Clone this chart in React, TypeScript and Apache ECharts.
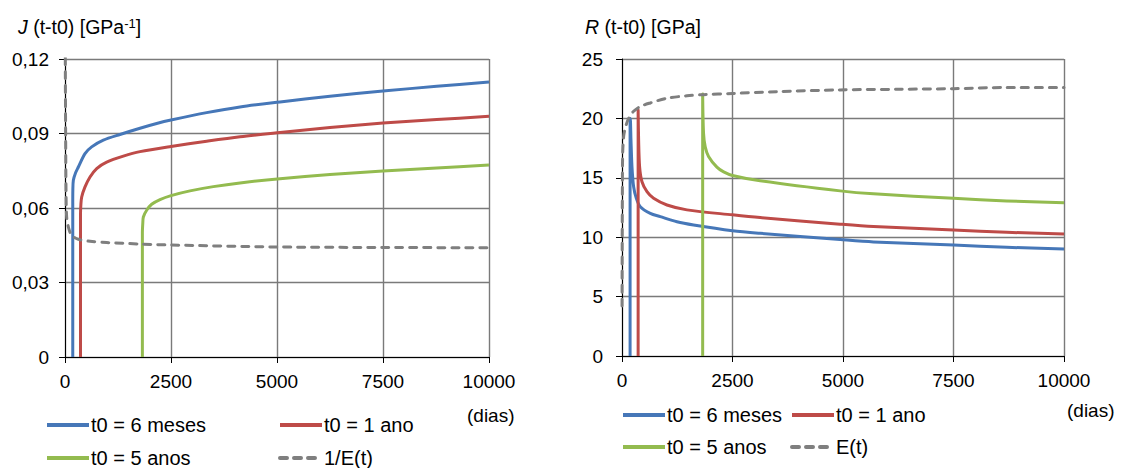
import React, { useEffect, useRef } from "react";
import * as echarts from "echarts";

const FONT = "'Liberation Sans', Arial, sans-serif";

const xMax = 10000;
const xStep = 2500;
const jMax = 0.12;
const jStep = 0.03;
const rMax = 25;
const rStep = 5;

// Left chart: J (t-t0)
const jBlueT = [183, 183, 185, 197, 250, 315, 472, 629, 904, 1297, 1769, 2162, 2500, 3341, 4127, 5071, 6250, 7500, 8766, 10000];
const jBlueV = [0, 0.062, 0.0671, 0.0712, 0.0742, 0.0765, 0.0819, 0.0846, 0.0873, 0.0896, 0.0921, 0.094, 0.0954, 0.0984, 0.1007, 0.1027, 0.105, 0.1071, 0.109, 0.1107];
const jRedT = [365, 365, 375, 393, 472, 590, 747, 983, 1376, 1769, 2500, 3341, 4127, 5071, 6250, 7500, 8766, 10000];
const jRedV = [0, 0.057, 0.0615, 0.0644, 0.0685, 0.0725, 0.0759, 0.0785, 0.0809, 0.0827, 0.0848, 0.0869, 0.0887, 0.0904, 0.0924, 0.0942, 0.0956, 0.0969];
const jGreenT = [1825, 1825, 1835, 1848, 1926, 2044, 2241, 2500, 2948, 3498, 4127, 5071, 6250, 7500, 8766, 10000];
const jGreenV = [0, 0.05, 0.054, 0.0564, 0.0591, 0.0615, 0.0634, 0.065, 0.0669, 0.0686, 0.0701, 0.0718, 0.0735, 0.0749, 0.0761, 0.0773];
const jInvET = [2, 8, 16, 24, 39, 79, 157, 315, 590, 983, 1769, 2500, 5000, 7500, 10000];
const jInvEV = [0.16, 0.115, 0.087, 0.067, 0.0564, 0.0524, 0.049, 0.0474, 0.0466, 0.0461, 0.0455, 0.0451, 0.0443, 0.0441, 0.044];

// Right chart: R (t-t0)
const rBlueT = [183, 183, 188, 203, 226, 263, 324, 414, 640, 866, 1243, 1620, 2500, 3126, 4935, 5688, 7500, 8703, 10000];
const rBlueV = [0, 19.5, 20.0, 18.2, 15.9, 14.25, 13.27, 12.57, 12.0, 11.73, 11.3, 11.03, 10.55, 10.33, 9.8, 9.6, 9.34, 9.15, 9.0];
const rRedT = [365, 365, 376, 399, 452, 565, 715, 1017, 1469, 2500, 3126, 4935, 5688, 7500, 8703, 10000];
const rRedV = [0, 20.7, 18.2, 15.9, 14.67, 13.83, 13.27, 12.71, 12.3, 11.88, 11.65, 11.1, 10.9, 10.6, 10.41, 10.27];
const rGreenT = [1825, 1825, 1845, 1883, 1958, 2147, 2300, 2500, 3126, 4935, 5688, 7500, 8703, 10000];
const rGreenV = [0, 22.05, 18.74, 17.6, 16.8, 15.9, 15.5, 15.2, 14.75, 13.9, 13.65, 13.27, 13.05, 12.9];
const rET = [1, 4, 8, 15, 38, 75, 150, 263, 414, 640, 1017, 1469, 1845, 2500, 3500, 4935, 6250, 7500, 8700, 10000];
const rEV = [4.2, 9, 13.5, 17, 18.5, 19.2, 20.0, 20.6, 21.0, 21.3, 21.7, 21.9, 22.0, 22.1, 22.25, 22.4, 22.45, 22.5, 22.6, 22.6];

const names = {
  blue: "t0 = 6 meses",
  red: "t0 = 1 ano",
  green: "t0 = 5 anos",
  invE: "1/E(t)",
  E: "E(t)",
};

const BLUE = "#4677b8";
const RED = "#be4b48";
const GREEN = "#93bb4f";
const GRAY = "#7f7f7f";

const zip = (t: number[], v: number[]) => t.map((x, i) => [x, v[i]]);

function lineSeries(name: string, t: number[], v: number[], color: string, idx: number, dashed = false) {
  return {
    type: "line",
    name,
    xAxisIndex: idx,
    yAxisIndex: idx,
    data: zip(t, v),
    showSymbol: false,
    symbol: "none",
    clip: true,
    smooth: 0.3,
    lineStyle: {
      color,
      width: 3,
      type: dashed ? [7, 7] : "solid",
      cap: dashed ? "round" : "butt",
      join: "round",
    },
    itemStyle: { color },
    z: dashed ? 3 : 2,
  };
}

function xAxis(gridIndex: number) {
  return {
    type: "value",
    gridIndex,
    min: 0,
    max: xMax,
    interval: xStep,
    axisLine: { show: true, onZero: false, lineStyle: { color: "#000", width: 1 } },
    axisTick: { show: true, length: 6, lineStyle: { color: "#000" } },
    splitLine: { show: true, lineStyle: { color: "#7a7a7a", width: 1.4 } },
    axisLabel: { fontSize: 19, color: "#000", fontFamily: FONT, margin: 15, formatter: (v: number) => String(v) },
  };
}

function yAxis(gridIndex: number, max: number, step: number, fmt: (v: number) => string, margin: number) {
  return {
    type: "value",
    gridIndex,
    min: 0,
    max,
    interval: step,
    axisLine: { show: true, onZero: false, lineStyle: { color: "#000", width: 1 } },
    axisTick: { show: true, length: 6, lineStyle: { color: "#000" } },
    splitLine: { show: true, lineStyle: { color: "#7a7a7a", width: 1.4 } },
    axisLabel: { fontSize: 19, color: "#000", fontFamily: FONT, margin, formatter: fmt },
  };
}

function legend(name: string, left: number, centerY: number) {
  return {
    data: [name],
    left,
    top: centerY - 11,
    itemWidth: 42,
    itemHeight: 14,
    itemGap: 0,
    padding: 0,
    selectedMode: false,
    itemStyle: { opacity: 0, borderWidth: 0 },
    lineStyle: { width: 4 },
    textStyle: { fontSize: 20, color: "#000", fontFamily: FONT, padding: [0, 0, 0, -3] },
  };
}

export default function App() {
  const ref = useRef<HTMLDivElement>(null);
  useEffect(() => {
    if (!ref.current) return;
    const chart = echarts.init(ref.current, undefined, { renderer: "svg" });
    const jFmt = (v: number) => (v === 0 ? "0" : v.toFixed(2).replace(".", ","));
    const rFmt = (v: number) => String(Math.round(v));
    chart.setOption({
      animation: false,
      backgroundColor: "#fff",
      grid: [
        { left: 65, top: 59, width: 424, height: 298 },
        { left: 622, top: 59, width: 442, height: 297 },
      ],
      xAxis: [xAxis(0), xAxis(1)],
      yAxis: [yAxis(0, jMax, jStep, jFmt, 16), yAxis(1, rMax, rStep, rFmt, 19)],
      legend: [
        legend(names.blue, 45, 426),
        legend(names.red, 278, 426),
        legend(names.green, 45, 459),
        legend(names.invE, 278, 459),
        legend(names.blue, 621, 416),
        legend(names.red, 790, 416),
        legend(names.green, 621, 448),
        legend(names.E, 790, 448),
      ],
      series: [
        lineSeries(names.blue, jBlueT, jBlueV, BLUE, 0),
        lineSeries(names.red, jRedT, jRedV, RED, 0),
        lineSeries(names.green, jGreenT, jGreenV, GREEN, 0),
        lineSeries(names.invE, jInvET, jInvEV, GRAY, 0, true),
        lineSeries(names.blue, rBlueT, rBlueV, BLUE, 1),
        lineSeries(names.red, rRedT, rRedV, RED, 1),
        lineSeries(names.green, rGreenT, rGreenV, GREEN, 1),
        lineSeries(names.E, rET, rEV, GRAY, 1, true),
      ],
      graphic: [
        {
          type: "text",
          x: 18,
          y: 17,
          style: {
            text: "{i|J} (t-t0) [GPa{s|-1}]",
            fontSize: 19.5,
            fontFamily: FONT,
            fill: "#000",
            verticalAlign: "top",
            rich: {
              i: { fontStyle: "italic", fontSize: 19.5, fontFamily: FONT, verticalAlign: "top" },
              s: { fontSize: 13, fontFamily: FONT, verticalAlign: "top" },
            },
          },
        },
        {
          type: "text",
          x: 585,
          y: 17,
          style: {
            text: "{i|R} (t-t0) [GPa]",
            fontSize: 19.5,
            fontFamily: FONT,
            fill: "#000",
            verticalAlign: "top",
            rich: {
              i: { fontStyle: "italic", fontSize: 19.5, fontFamily: FONT, verticalAlign: "top" },
            },
          },
        },
        {
          type: "text",
          x: 467,
          y: 415,
          style: { text: "(dias)", fontSize: 19, fontFamily: FONT, fill: "#000", verticalAlign: "middle" },
        },
        {
          type: "text",
          x: 1067,
          y: 410,
          style: { text: "(dias)", fontSize: 19, fontFamily: FONT, fill: "#000", verticalAlign: "middle" },
        },
      ],
    });
    return () => chart.dispose();
  }, []);
  return (
    <div
      ref={ref}
      style={{ position: "absolute", left: 0, top: 0, width: 1122, height: 468 }}
    />
  );
}
